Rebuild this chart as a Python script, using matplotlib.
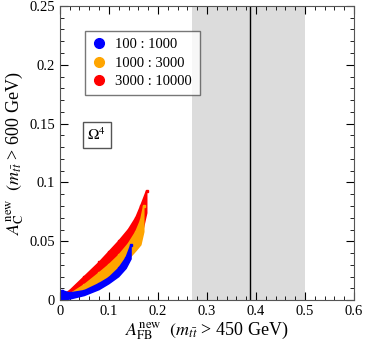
import numpy as np
import matplotlib
matplotlib.use("Agg")
import matplotlib.pyplot as plt

plt.rcParams['font.family'] = ['Liberation Serif', 'DejaVu Serif']
plt.rcParams['mathtext.fontset'] = 'stix'

# upper / lower edges of the three scan clouds
red_x = [0.0, 0.02, 0.05, 0.08, 0.10, 0.12, 0.14, 0.155, 0.165, 0.177]
red_top = [0.003, 0.008, 0.020, 0.032, 0.041, 0.050, 0.060, 0.070, 0.080, 0.093]
red_bot = [0.0, 0.002, 0.008, 0.014, 0.019, 0.026, 0.036, 0.045, 0.052, 0.074]

orange_x = [0.0, 0.02, 0.05, 0.08, 0.10, 0.12, 0.14, 0.155, 0.165, 0.171]
orange_top = [0.002, 0.005, 0.013, 0.023, 0.030, 0.038, 0.048, 0.058, 0.068, 0.080]
orange_bot = [0.0, 0.002, 0.007, 0.013, 0.018, 0.025, 0.035, 0.042, 0.047, 0.058]

blue_x = [0.0, 0.005, 0.02, 0.05, 0.08, 0.10, 0.12, 0.135, 0.145]
blue_top = [0.004, 0.008, 0.006, 0.008, 0.014, 0.019, 0.027, 0.036, 0.047]
blue_bot = [0.0, 0.0, 0.001, 0.004, 0.009, 0.014, 0.020, 0.027, 0.035]

labels = ['100 : 1000', '1000 : 3000', '3000 : 10000']
colors = ['#0000ff', '#ffa500', '#ff0000']

band_lo, band_hi, central = 0.27, 0.50, 0.387

fig = plt.figure(figsize=(3.65, 3.49), dpi=100)
ax = fig.add_axes([0.164, 0.140, 0.806, 0.843])

ax.axvspan(band_lo, band_hi, color='#dcdcdc', lw=0, zorder=0)
ax.axvline(central, color='black', lw=1.0, zorder=1)

clouds = [(red_x, red_top, red_bot, colors[2]),
          (orange_x, orange_top, orange_bot, colors[1]),
          (blue_x, blue_top, blue_bot, colors[0])]
for xs, top, bot, c in clouds:
    ax.fill(xs + xs[::-1], top + bot[::-1], color=c, lw=1.2, ec=c, zorder=2)
    ax.plot(xs, top, 's', color=c, ms=2, zorder=2)

for lab, c in zip(labels, colors):
    ax.plot([], [], 'o', color=c, ms=7, label=lab)
leg = ax.legend(loc='upper left', bbox_to_anchor=(0.085, 0.915), fontsize=10.5,
                frameon=True, fancybox=False, edgecolor='#555555',
                handletextpad=0.6, borderpad=0.5, labelspacing=0.35,
                handlelength=1.0, borderaxespad=0)
leg.get_frame().set_linewidth(1.0)

ax.text(0.056, 0.136, r'$\Omega^4$', fontsize=11,
        bbox=dict(boxstyle='square,pad=0.3', fc='white', ec='#555555', lw=1.0))

ax.set_xlim(0, 0.6)
ax.set_ylim(0, 0.25)
ax.set_xticks([0, 0.1, 0.2, 0.3, 0.4, 0.5, 0.6])
ax.set_xticklabels(['0', '0.1', '0.2', '0.3', '0.4', '0.5', '0.6'])
ax.set_yticks([0, 0.05, 0.1, 0.15, 0.2, 0.25])
ax.set_yticklabels(['0', '0.05', '0.1', '0.15', '0.2', '0.25'])
ax.set_xticks(np.arange(0, 0.601, 0.02), minor=True)
ax.set_yticks(np.arange(0, 0.251, 0.01), minor=True)
ax.tick_params(which='both', direction='in', top=True, right=True, labelsize=10.5)
ax.tick_params(which='major', length=6)
ax.tick_params(which='minor', length=3)
for s in ax.spines.values():
    s.set_color('#555555')

ax.set_xlabel(r'$A_{\rm FB}^{\rm new}$  $(m_{t\bar{t}}$ > 450 GeV)', fontsize=13, labelpad=1)
ax.set_ylabel(r'$A_{\rm C}^{\rm new}$  $(m_{t\bar{t}}$ > 600 GeV)', fontsize=13, labelpad=2)

fig.savefig('out.png', dpi=100)
